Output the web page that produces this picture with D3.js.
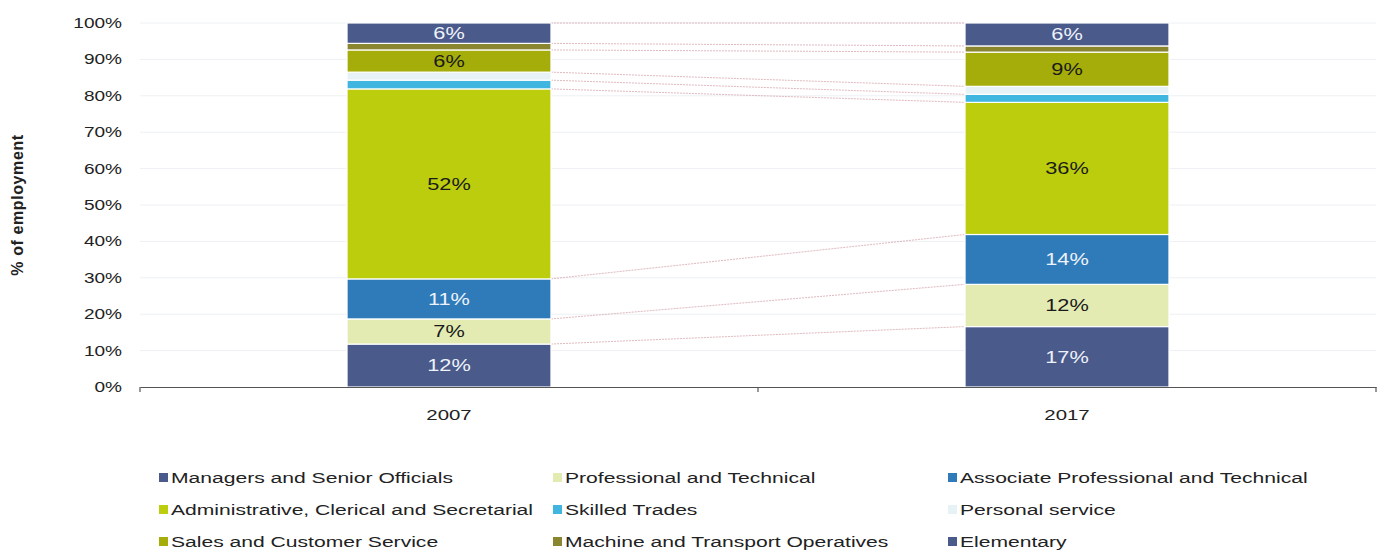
<!DOCTYPE html>
<html>
<head>
<meta charset="utf-8">
<script src="https://cdn.jsdelivr.net/npm/d3@7"></script>
<style>
  html, body { margin: 0; padding: 0; background: #ffffff; }
  svg { display: block; font-family: "Liberation Sans", Arial, sans-serif; }
</style>
</head>
<body>
<svg id="chart" width="1381" height="552"></svg>
<script>
// ---- data ----
const categories = ["2007", "2017"];
const seriesNames = [
  "Managers and Senior Officials",
  "Professional and Technical",
  "Associate Professional and Technical",
  "Administrative, Clerical and Secretarial",
  "Skilled Trades",
  "Personal service",
  "Sales and Customer Service",
  "Machine and Transport Operatives",
  "Elementary"
];
const values2007 = [11.8, 6.9, 11.0, 52.2, 2.4, 2.2, 6.1, 1.8, 5.6];
const values2017 = [16.6, 11.6, 13.7, 36.3, 2.2, 2.2, 9.4, 1.7, 6.3];
const yTicks = [0, 10, 20, 30, 40, 50, 60, 70, 80, 90, 100];
const seriesColors = ["#4a5a8b", "#e3ebb3", "#2f7bb9", "#bccd0e", "#3fb5e0", "#e6f2f6", "#a5ad0a", "#8a8630", "#4a5a8b"];
const labelColors = ["#eef2fa", "#1a1a1a", "#eef2fa", "#1a1a1a", "#1a1a1a", "#1a1a1a", "#1a1a1a", "#1a1a1a", "#eef2fa"];

const seriesValues = [values2007, values2017];

// ---- layout ----
const svg = d3.select("#chart");
const plot = { left: 140, right: 1376, top: 23, bottom: 387 };
const STRETCH = 1.36; // reference text is horizontally widened

const x = d3.scaleBand().domain(categories).range([plot.left, plot.right])
  .paddingInner(0.67).paddingOuter(0.335);
const y = d3.scaleLinear().domain([0, 100]).range([plot.bottom, plot.top]);

// gridlines
svg.append("g").selectAll("line").data(yTicks.slice(1)).join("line")
  .attr("x1", plot.left).attr("x2", plot.right)
  .attr("y1", d => y(d)).attr("y2", d => y(d))
  .attr("stroke", "#eef0f3").attr("stroke-width", 1);

// stack data
const stacked = categories.map((c, ci) => {
  let acc = 0;
  return seriesNames.map((s, si) => {
    const v = seriesValues[ci][si];
    const seg = { cat: c, si, v, y0: acc, y1: acc + v };
    acc += v;
    return seg;
  });
});

// connector lines between bars
const boundaries = seriesNames.map((s, si) => ({
  a: stacked[0][si].y1, b: stacked[1][si].y1
}));
svg.append("g").selectAll("line").data(boundaries).join("line")
  .attr("x1", x("2007") + x.bandwidth()).attr("x2", x("2017"))
  .attr("y1", d => y(d.a)).attr("y2", d => y(d.b))
  .attr("stroke", "#d9a9b0").attr("stroke-width", 1)
  .attr("stroke-dasharray", "2,1").attr("opacity", 0.8);

// bars
const barG = svg.append("g");
stacked.forEach(col => {
  barG.append("g").selectAll("rect").data(col).join("rect")
    .attr("x", d => x(d.cat)).attr("width", x.bandwidth())
    .attr("y", d => y(d.y1)).attr("height", d => y(d.y0) - y(d.y1))
    .attr("fill", d => seriesColors[d.si])
    .attr("stroke", "#ffffff").attr("stroke-width", 1.2);
  barG.append("g").selectAll("text").data(col.filter(d => d.v >= 5)).join("text")
    .attr("transform", d => `translate(${x(d.cat) + x.bandwidth() / 2},${y((d.y0 + d.y1) / 2)}) scale(${STRETCH},1)`)
    .attr("dy", "0.36em")
    .attr("text-anchor", "middle")
    .attr("font-size", 16)
    .attr("fill", d => labelColors[d.si])
    .text(d => Math.round(d.v) + "%");
});

// y axis labels
const yAxis = d3.axisLeft(y).tickValues(yTicks).tickFormat(d => d + "%").tickSize(0).tickPadding(18);
const yg = svg.append("g").attr("transform", `translate(${plot.left},0)`).call(yAxis);
yg.select(".domain").remove();
yg.selectAll("text").attr("x", 0)
  .attr("transform", `translate(-18,0) scale(${STRETCH},1)`)
  .attr("font-size", 14)
  .attr("fill", "#222").attr("font-family", "Liberation Sans, Arial, sans-serif");

// x axis
const xAxis = d3.axisBottom(x).tickSize(0).tickPadding(22);
const xg = svg.append("g").attr("transform", `translate(0,${plot.bottom})`).call(xAxis);
xg.select(".domain").attr("stroke", "#555").attr("stroke-width", 1.2);
xg.selectAll("text").attr("transform", `scale(${STRETCH},1)`).attr("x", 0)
  .attr("font-size", 15)
  .attr("fill", "#222").attr("font-family", "Liberation Sans, Arial, sans-serif");
// band boundary ticks
const bounds = [plot.left, (x("2007") + x.bandwidth() + x("2017")) / 2, plot.right];
xg.append("g").selectAll("line").data(bounds).join("line")
  .attr("x1", d => d).attr("x2", d => d).attr("y1", 0).attr("y2", 5)
  .attr("stroke", "#555").attr("stroke-width", 1.2);

// y title
svg.append("text")
  .attr("transform", `translate(23,${(plot.top + plot.bottom) / 2}) rotate(-90)`)
  .attr("text-anchor", "middle")
  .attr("font-size", 16).attr("font-weight", "bold").attr("letter-spacing", 0.6)
  .attr("fill", "#222")
  .text("% of employment");

// legend
const legCols = [159, 553, 948];
const legRows = [477, 509, 541];
const leg = svg.append("g").selectAll("g").data(seriesNames).join("g")
  .attr("transform", (d, i) => `translate(${legCols[i % 3]},${legRows[Math.floor(i / 3)]})`);
leg.append("rect").attr("x", 0).attr("y", -4).attr("width", 9).attr("height", 9)
  .attr("fill", (d, i) => seriesColors[i]);
leg.append("text")
  .attr("transform", `translate(12,0) scale(${STRETCH},1)`)
  .attr("dy", "0.36em")
  .attr("font-size", 15.5).attr("fill", "#222")
  .text(d => d);
</script>
</body>
</html>
